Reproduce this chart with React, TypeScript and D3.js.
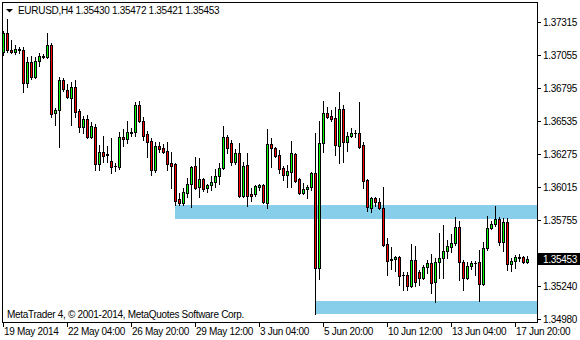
import React from 'react';
import * as d3 from 'd3';

const symbolTitle = 'EURUSD,H4';
const headerOHLC = ['1.35430', '1.35472', '1.35421', '1.35453'];
const copyright = 'MetaTrader 4, \u00A9 2001-2014, MetaQuotes Software Corp.';

const opens = [
  1.37079, 1.37229, 1.37095, 1.37079, 1.37091, 1.37095, 1.36835, 1.37001, 1.36883, 1.37008,
  1.37040, 1.37040, 1.37134, 1.36600, 1.36623, 1.36859, 1.36780, 1.36718, 1.36804, 1.36615,
  1.36490, 1.36552, 1.36411, 1.36490, 1.36199, 1.36293, 1.36277, 1.36222, 1.36183, 1.36175,
  1.36411, 1.36395, 1.36446, 1.36450, 1.36663, 1.36537, 1.36435, 1.36380, 1.36152, 1.36340,
  1.36324, 1.36301, 1.36207, 1.36199, 1.35924, 1.35892, 1.35971, 1.36041, 1.36183, 1.36018,
  1.36081, 1.36010, 1.36034, 1.36057, 1.36104, 1.36167, 1.36411, 1.36364, 1.36214, 1.36285,
  1.35947, 1.36191, 1.35963, 1.35963, 1.36018, 1.36034, 1.35892, 1.36356, 1.36324, 1.36269,
  1.36167, 1.36112, 1.36136, 1.36277, 1.36081, 1.35971, 1.36002, 1.36018, 1.36128, 1.35381,
  1.36364, 1.36600, 1.36576, 1.36560, 1.36340, 1.36631, 1.36372, 1.36419, 1.36442, 1.36442,
  1.36348, 1.36073, 1.35853, 1.35931, 1.35900, 1.35853, 1.35570, 1.35452, 1.35452, 1.35468,
  1.35326, 1.35326, 1.35240, 1.35444, 1.35350, 1.35302, 1.35389, 1.35420, 1.35271, 1.35428,
  1.35460, 1.35515, 1.35546, 1.35578, 1.35703, 1.35428, 1.35302, 1.35397, 1.35420, 1.35428,
  1.35255, 1.35538, 1.35696, 1.35727, 1.35766, 1.35585, 1.35743, 1.35412, 1.35436, 1.35460,
  1.35468, 1.35430,
];
const highs = [
  1.37244, 1.37339, 1.37174, 1.37134, 1.37122, 1.37119, 1.37040, 1.37048, 1.37040, 1.37071,
  1.37064, 1.37229, 1.37150, 1.36639, 1.36883, 1.36875, 1.36828, 1.36843, 1.36859, 1.36631,
  1.36576, 1.36584, 1.36529, 1.36513, 1.36348, 1.36419, 1.36340, 1.36403, 1.36207, 1.36450,
  1.36474, 1.36537, 1.36482, 1.36686, 1.36694, 1.36568, 1.36458, 1.36403, 1.36372, 1.36372,
  1.36356, 1.36372, 1.36293, 1.36207, 1.35971, 1.36010, 1.36089, 1.36183, 1.36254, 1.36246,
  1.36089, 1.36041, 1.36104, 1.36159, 1.36207, 1.36497, 1.36427, 1.36387, 1.36317, 1.36364,
  1.36214, 1.36285, 1.36010, 1.36034, 1.36041, 1.36041, 1.36474, 1.36403, 1.36332, 1.36309,
  1.36183, 1.36191, 1.36380, 1.36285, 1.36089, 1.36049, 1.36034, 1.36136, 1.36442, 1.36537,
  1.36694, 1.36647, 1.36623, 1.36647, 1.36765, 1.36663, 1.36450, 1.36482, 1.36466, 1.36686,
  1.36372, 1.36081, 1.35939, 1.35939, 1.35931, 1.36018, 1.35617, 1.35546, 1.35475, 1.35475,
  1.35350, 1.35350, 1.35570, 1.35554, 1.35365, 1.35405, 1.35444, 1.35491, 1.35460, 1.35656,
  1.35719, 1.35601, 1.35648, 1.35782, 1.35751, 1.35444, 1.35428, 1.35436, 1.35436, 1.35523,
  1.35585, 1.35790, 1.35751, 1.35868, 1.35782, 1.35774, 1.35774, 1.35460, 1.35483, 1.35491,
  1.35475, 1.35472,
];
const lows = [
  1.37056, 1.37079, 1.37071, 1.37064, 1.37071, 1.36765, 1.36804, 1.36867, 1.36875, 1.36969,
  1.37032, 1.37032, 1.36568, 1.36505, 1.36332, 1.36773, 1.36718, 1.36505, 1.36568, 1.36450,
  1.36442, 1.36403, 1.36403, 1.36152, 1.36152, 1.36214, 1.36214, 1.36128, 1.36144, 1.36159,
  1.36340, 1.36364, 1.36419, 1.36419, 1.36529, 1.36387, 1.36254, 1.36112, 1.36136, 1.36293,
  1.36285, 1.36152, 1.36010, 1.35876, 1.35876, 1.35876, 1.35939, 1.35861, 1.36002, 1.35939,
  1.35986, 1.35979, 1.35994, 1.36018, 1.36041, 1.36159, 1.36285, 1.36191, 1.36199, 1.35939,
  1.35939, 1.35868, 1.35908, 1.35947, 1.35994, 1.35892, 1.35853, 1.36175, 1.36254, 1.36128,
  1.36073, 1.36018, 1.36018, 1.36057, 1.35963, 1.35963, 1.35931, 1.35994, 1.35019, 1.35295,
  1.36293, 1.36560, 1.36537, 1.36269, 1.36207, 1.36214, 1.36301, 1.36411, 1.36411, 1.36324,
  1.36010, 1.35829, 1.35821, 1.35868, 1.35845, 1.35554, 1.35326, 1.35373, 1.35357, 1.35247,
  1.35208, 1.35208, 1.35232, 1.35240, 1.35247, 1.35295, 1.35342, 1.35184, 1.35114, 1.35302,
  1.35302, 1.35460, 1.35507, 1.35562, 1.35287, 1.35208, 1.35295, 1.35373, 1.35326, 1.35122,
  1.35247, 1.35523, 1.35688, 1.35711, 1.35562, 1.35515, 1.35365, 1.35357, 1.35381, 1.35436,
  1.35420, 1.35421,
];
const closes = [
  1.37229, 1.37095, 1.37079, 1.37103, 1.37099, 1.36835, 1.37001, 1.36883, 1.37008, 1.37048,
  1.37048, 1.37134, 1.36592, 1.36623, 1.36859, 1.36788, 1.36725, 1.36804, 1.36608, 1.36490,
  1.36552, 1.36411, 1.36497, 1.36199, 1.36293, 1.36262, 1.36273, 1.36175, 1.36181, 1.36411,
  1.36395, 1.36450, 1.36450, 1.36663, 1.36537, 1.36419, 1.36372, 1.36152, 1.36340, 1.36317,
  1.36293, 1.36199, 1.36183, 1.35908, 1.35892, 1.35979, 1.36041, 1.36175, 1.36010, 1.36081,
  1.36002, 1.36034, 1.36057, 1.36104, 1.36167, 1.36411, 1.36324, 1.36214, 1.36285, 1.35947,
  1.36183, 1.35947, 1.35947, 1.36026, 1.36034, 1.35900, 1.36356, 1.36324, 1.36262, 1.36159,
  1.36112, 1.36144, 1.36285, 1.36065, 1.35971, 1.36002, 1.36018, 1.36128, 1.35381, 1.36364,
  1.36600, 1.36568, 1.36552, 1.36348, 1.36631, 1.36372, 1.36419, 1.36442, 1.36446, 1.36332,
  1.36065, 1.35861, 1.35931, 1.35900, 1.35853, 1.35562, 1.35436, 1.35444, 1.35468, 1.35318,
  1.35322, 1.35240, 1.35444, 1.35271, 1.35302, 1.35389, 1.35420, 1.35263, 1.35428, 1.35460,
  1.35515, 1.35554, 1.35578, 1.35703, 1.35428, 1.35302, 1.35397, 1.35420, 1.35424, 1.35255,
  1.35538, 1.35696, 1.35727, 1.35766, 1.35585, 1.35743, 1.35412, 1.35436, 1.35468, 1.35464,
  1.35428, 1.35453,
];

const xTickIndex = [0, 16, 32, 48, 64, 80, 96, 112, 128];
const xTickLabels = [
  '19 May 2014', '22 May 04:00', '26 May 20:00', '29 May 12:00', '3 Jun 04:00',
  '5 Jun 20:00', '10 Jun 12:00', '13 Jun 04:00', '17 Jun 20:00',
];
// price grid levels; the 1.35495 level sits under the current-price box, so only its tick is drawn
const yTicks = [1.37315, 1.37055, 1.36795, 1.36535, 1.36275, 1.36015, 1.35755, 1.35495, 1.3524, 1.3498];
const yTickHidden = [1.35495];

const zoneTop = [1.35876, 1.35122];
const zoneBottom = [1.3577, 1.35022];
const zoneStartBar = [43, 78];

const lastPrice = 1.35453;

const W = 580;
const H = 340;
const FRAME = { left: 2, top: 2, right: 537, bottom: 322 };
const FONT = "'Liberation Sans', Arial, sans-serif";
const BULL = '#00ff00';
const BEAR = '#ff0000';

export default function App() {
  const n = closes.length;
  const x = d3.scaleLinear().domain([0, n - 1]).range([3, 3 + 4 * (n - 1)]);
  const y = d3.scaleLinear().domain([1.37315, 1.3498]).range([22, 319]);
  const py = (v: number) => Math.round(y(v));

  const textStyle = { fontFamily: FONT, fontSize: 10, letterSpacing: -0.3 } as const;

  return (
    <svg
      width={W}
      height={H}
      style={{ position: 'absolute', left: 0, top: 0, background: '#fff' }}
      shapeRendering="crispEdges"
    >
      <rect x={0} y={0} width={W} height={H} fill="#fff" />
      <defs>
        <clipPath id="plot">
          <rect x={FRAME.left + 1} y={FRAME.top + 1} width={FRAME.right - FRAME.left - 1} height={FRAME.bottom - FRAME.top - 1} />
        </clipPath>
      </defs>

      <g clipPath="url(#plot)">
        {zoneTop.map((t, k) => (
          <rect
            key={'z' + k}
            x={x(zoneStartBar[k])}
            y={py(t)}
            width={FRAME.right - x(zoneStartBar[k])}
            height={py(zoneBottom[k]) - py(t)}
            fill="#87ceeb"
          />
        ))}

        {closes.map((c, i) => {
          const o = opens[i];
          const cx = x(i);
          const top = py(Math.max(o, c));
          const bot = py(Math.min(o, c));
          const bull = c >= o;
          return (
            <g key={i}>
              <line x1={cx + 0.5} x2={cx + 0.5} y1={py(highs[i])} y2={py(lows[i]) + 1} stroke="#000" strokeWidth={1} />
              {bot - top >= 2 ? (
                <rect x={cx - 0.5} y={top + 0.5} width={2} height={bot - top} fill={bull ? BULL : BEAR} stroke="#000" strokeWidth={1} />
              ) : (
                <rect x={cx - 1} y={top} width={3} height={Math.max(1, bot - top + 1)} fill="#000" />
              )}
            </g>
          );
        })}
      </g>

      {/* frame */}
      <rect
        x={FRAME.left + 0.5}
        y={FRAME.top + 0.5}
        width={FRAME.right - FRAME.left}
        height={FRAME.bottom - FRAME.top}
        fill="none"
        stroke="#000"
        strokeWidth={1}
      />

      {/* header */}
      <polygon points="6,9 13,9 9.5,12.5" fill="#000" shapeRendering="auto" />
      <text x={18} y={14} style={textStyle} fill="#000">
        {symbolTitle + ' ' + headerOHLC.join(' ')}
      </text>

      {/* copyright */}
      <text x={7} y={318} style={textStyle} fill="#000">
        {copyright}
      </text>

      {/* y axis */}
      {yTicks.map((t) => (
        <g key={'y' + t}>
          <line x1={FRAME.right} x2={FRAME.right + 4} y1={py(t) + 0.5} y2={py(t) + 0.5} stroke="#000" />
          {yTickHidden.includes(t) ? null : (
            <text x={543} y={py(t) + 4} style={textStyle} fill="#000">
              {t.toFixed(5)}
            </text>
          )}
        </g>
      ))}

      {/* current price label */}
      <rect x={FRAME.right} y={py(lastPrice) - 6} width={W - FRAME.right} height={12} fill="#000" />
      <text x={543} y={py(lastPrice) + 4} style={textStyle} fill="#fff">
        {lastPrice.toFixed(5)}
      </text>

      {/* x axis */}
      {xTickIndex.map((idx, k) => (
        <g key={'x' + k}>
          <line x1={x(idx) + 0.5} x2={x(idx) + 0.5} y1={FRAME.bottom} y2={FRAME.bottom + 5} stroke="#000" />
          <text x={x(idx) + 1} y={335} style={textStyle} fill="#000">
            {xTickLabels[k]}
          </text>
        </g>
      ))}
    </svg>
  );
}
